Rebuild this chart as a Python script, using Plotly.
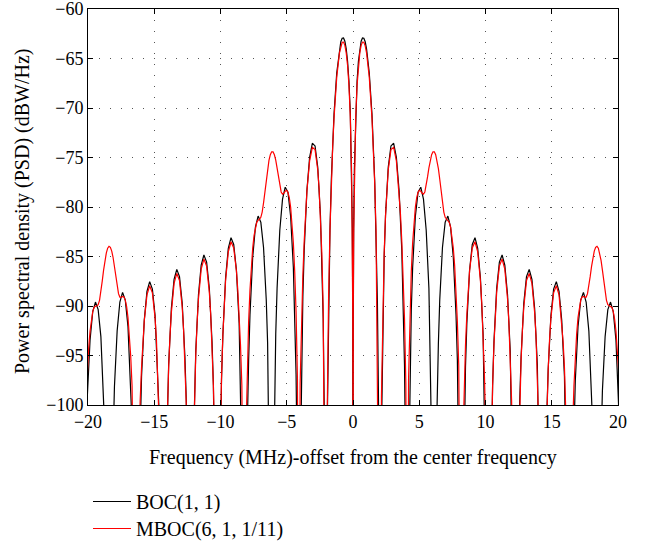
import numpy as np
import plotly.graph_objects as go

# ---------------- data ----------------
# frequency offset expressed in multiples of the 1.023 MHz chip rate (positive half;
# the spectrum is symmetric about the carrier)
CHIP_RATE_MHZ = 1.023
CENTER_NULL_DB = -130.0  # both spectra have a null at the carrier

boc_offset = [
    0.005, 0.01, 0.02, 0.05, 0.1, 0.2, 0.3, 0.4, 0.5, 0.6, 0.7, 0.8, 0.9, 1.0, 1.2, 1.4, 1.6, 1.7, 1.8, 1.9, 2.0,
    2.1, 2.2, 2.3, 2.4, 2.6, 2.8, 3.0, 3.2, 3.4, 3.6, 3.7, 3.8, 3.9, 4.0,
    4.1, 4.2, 4.3, 4.4, 4.6, 4.8, 5.0, 5.2, 5.4, 5.6, 5.7, 5.8, 5.9, 6.0,
    6.1, 6.2, 6.3, 6.4, 6.6, 6.8, 7.0, 7.2, 7.4, 7.6, 7.7, 7.8, 7.9, 8.0,
    8.1, 8.2, 8.3, 8.4, 8.6, 8.8, 9.0, 9.2, 9.4, 9.6, 9.7, 9.8, 9.9, 10.0,
    10.1, 10.2, 10.3, 10.4, 10.6, 10.8, 11.0, 11.2, 11.4, 11.6, 11.7, 11.8, 11.9, 12.0,
    12.1, 12.2, 12.3, 12.4, 12.6, 12.8, 13.0, 13.2, 13.4, 13.6, 13.7, 13.8, 13.9, 14.0,
    14.1, 14.2, 14.3, 14.4, 14.6, 14.8, 15.0, 15.2, 15.4, 15.6, 15.7, 15.8, 15.9, 16.0,
    16.1, 16.2, 16.3, 16.4, 16.6, 16.8, 17.0, 17.2, 17.4, 17.6, 17.7, 17.8, 17.9, 18.0,
    18.1, 18.2, 18.3, 18.4, 18.6, 18.8, 19.0, 19.2, 19.4, 19.6, 19.7,
]
boc_psd = [
    -102.2, -96.18, -90.15, -82.2, -76.25, -70.44, -67.28, -65.29, -64.02, -63.26, -62.93, -62.95, -63.31, -64.02,
    -66.47, -70.62, -77.33, -82.35, -89.53, -101.83, -130,
    -102.69, -91.27, -84.97, -80.85, -76.00, -73.83, -73.56, -74.99, -78.33, -84.38, -89.10, -96.02, -108.07, -130,
    -108.51, -96.88, -90.41, -86.12, -80.96, -78.51, -78.00, -79.21, -82.35, -88.21, -92.86, -99.69, -111.67, -130,
    -111.96, -100.27, -93.73, -89.37, -84.09, -81.54, -80.92, -82.04, -85.08, -90.87, -95.47, -102.26, -114.2, -130,
    -114.4, -102.70, -96.12, -91.74, -86.39, -83.78, -83.10, -84.17, -87.16, -92.90, -97.48, -104.24, -116.0, -130,
    -116.0, -104.59, -98.00, -93.59, -88.21, -85.56, -84.85, -85.87, -88.84, -94.54, -99.10, -105.86, -118.0, -130,
    -118.0, -106.15, -99.54, -95.12, -89.71, -87.03, -86.30, -87.30, -90.24, -95.92, -100.47, -107.22, -119.0, -130,
    -119.0, -107.47, -100.85, -96.42, -90.99, -88.30, -87.54, -88.53, -91.45, -97.11, -101.66, -108.39, -120.0, -130,
    -120.0, -108.61, -101.98, -97.55, -92.10, -89.40, -88.63, -89.60, -92.51, -98.16, -102.70, -109.43, -121.0, -130,
    -121.0, -109.62, -102.99, -98.55, -93.09, -90.37, -89.60, -90.56, -93.46, -99.10, -103.63,
]

mboc_offset = [
    0.005, 0.01, 0.02, 0.05, 0.1, 0.2, 0.3, 0.4, 0.5, 0.6, 0.7, 0.8, 0.9, 1.0, 1.2, 1.4, 1.5, 1.6, 1.7, 1.8, 1.9, 1.95, 2.0,
    2.1, 2.2, 2.3, 2.4, 2.5, 2.6, 2.8, 3.0, 3.2, 3.4, 3.5, 3.6, 3.7, 3.8, 3.9, 4.0,
    4.1, 4.2, 4.3, 4.4, 4.5, 4.6, 4.7, 4.8, 4.9, 5.0, 5.1, 5.2, 5.3, 5.4, 5.5, 5.6, 5.7, 5.8, 5.9, 6.0,
    6.1, 6.2, 6.3, 6.4, 6.5, 6.6, 6.7, 6.8, 6.9, 7.0, 7.1, 7.2, 7.3, 7.4, 7.5, 7.6, 7.7, 7.8, 7.9, 8.0,
    8.1, 8.2, 8.3, 8.4, 8.5, 8.6, 8.8, 9.0, 9.2, 9.4, 9.5, 9.6, 9.7, 9.8, 9.9, 10.0,
    10.1, 10.2, 10.3, 10.4, 10.5, 10.6, 10.8, 11.0, 11.2, 11.4, 11.5, 11.6, 11.7, 11.8, 11.9, 12.0,
    12.1, 12.2, 12.3, 12.4, 12.5, 12.6, 12.8, 13.0, 13.2, 13.4, 13.5, 13.6, 13.7, 13.8, 13.9, 14.0,
    14.1, 14.2, 14.3, 14.4, 14.5, 14.6, 14.8, 15.0, 15.2, 15.4, 15.5, 15.6, 15.7, 15.8, 15.9, 16.0,
    16.1, 16.2, 16.3, 16.4, 16.5, 16.6, 16.7, 16.8, 16.9, 17.0, 17.1, 17.2, 17.3, 17.4, 17.5, 17.6, 17.7, 17.8, 17.9, 18.0,
    18.1, 18.2, 18.3, 18.4, 18.5, 18.6, 18.7, 18.8, 18.9, 19.0, 19.1, 19.2, 19.3, 19.4, 19.5, 19.6, 19.7,
]
mboc_psd = [
    -102.6, -96.59, -90.56, -82.61, -76.66, -70.85, -67.69, -65.70, -64.43, -63.67, -63.34, -63.36, -63.72, -64.43,
    -66.88, -71.03, -73.90, -77.58, -82.39, -88.99, -98.86, -106.6, -130,
    -99.12, -90.22, -84.65, -80.85, -78.16, -76.26, -74.20, -73.97, -75.34, -78.40, -80.65, -83.46, -86.92, -91.32, -97.83, -130,
    -97.30, -90.62, -86.52, -83.62, -81.51, -80.04, -79.06, -78.51, -78.32, -78.41, -78.61, -78.71, -78.48, -77.84, -76.96,
    -76.04, -75.26, -74.72, -74.43, -74.43,
    -74.72, -75.30, -76.13, -77.20, -78.41, -79.58, -80.51, -81.04, -81.24, -81.33, -81.55, -82.04, -82.89, -84.16, -85.95,
    -88.37, -91.58, -96.00, -102.99, -130,
    -104.18, -98.00, -93.94, -90.82, -88.36, -86.46, -84.13, -83.51, -84.54, -87.42, -89.75, -92.90, -97.16, -103.19, -112.6, -130,
    -113.4, -104.05, -98.04, -93.84, -90.80, -88.60, -85.97, -85.26, -86.28, -89.25, -91.66, -94.95, -99.51, -106.27, -118.0, -130,
    -118.3, -106.56, -99.95, -95.53, -92.39, -90.12, -87.44, -86.71, -87.71, -90.64, -92.99, -96.17, -100.51, -106.68, -116.1, -130,
    -115.7, -106.42, -100.53, -96.42, -93.43, -91.25, -88.67, -87.95, -88.88, -91.52, -93.58, -96.19, -99.48, -103.69, -110.0, -130,
    -109.18, -102.35, -98.09, -95.05, -92.80, -91.18, -90.07, -89.40, -89.08, -89.04, -89.12, -89.10, -88.75, -88.00, -87.01,
    -85.99, -85.10, -84.46, -84.07, -83.98,
    -84.16, -84.65, -85.39, -86.38, -87.49, -88.58, -89.43, -89.87, -89.99, -90.01, -90.14, -90.56, -91.33, -92.54, -94.25,
    -96.60, -99.74,
]

series_names = ["BOC(1, 1)", "MBOC(6, 1, 1/11)"]
x_ticks = [-20, -15, -10, -5, 0, 5, 10, 15, 20]
y_ticks = [-100, -95, -90, -85, -80, -75, -70, -65, -60]
x_title = "Frequency (MHz)-offset from the center frequency"
y_title = "Power spectral density (PSD) (dBW/Hz)"


def full_spectrum(offset, psd):
    u = np.asarray(offset, dtype=float)
    v = np.asarray(psd, dtype=float)
    x = np.concatenate([-u[::-1], [0.0], u]) * CHIP_RATE_MHZ
    y = np.concatenate([v[::-1], [CENTER_NULL_DB], v])
    return x, y


bx, by = full_spectrum(boc_offset, boc_psd)
mx, my = full_spectrum(mboc_offset, mboc_psd)

FONT = "Liberation Serif"

fig = go.Figure()
fig.add_trace(go.Scatter(x=bx, y=by, mode="lines", name=series_names[0],
                         line=dict(color="#000000", width=1.2), legend="legend"))
fig.add_trace(go.Scatter(x=mx, y=my, mode="lines", name=series_names[1],
                         line=dict(color="#ff0000", width=1.2), legend="legend2"))

axis_common = dict(
    showline=True, linecolor="black", linewidth=1, mirror="ticks",
    ticks="inside", ticklen=5, tickwidth=1, tickcolor="black",
    showgrid=True, gridcolor="#555555", gridwidth=1, griddash="1px,10px",
    zeroline=False, tickfont=dict(family=FONT, size=18, color="black"),
    ticklabeloverflow="allow", automargin=False,
)

legend_common = dict(xref="container", yref="container", x=88 / 649,
                     xanchor="left", yanchor="top", bgcolor="rgba(0,0,0,0)",
                     itemwidth=38, font=dict(family=FONT, size=20))

fig.update_layout(
    width=649, height=546,
    margin=dict(l=88, r=31, t=9, b=141, autoexpand=False),
    paper_bgcolor="white", plot_bgcolor="white",
    font=dict(family=FONT, size=18, color="black"),
    xaxis=dict(axis_common, range=[-20, 20], tickvals=x_ticks),
    yaxis=dict(axis_common, range=[-100, -60], tickvals=y_ticks),
    legend=dict(legend_common, y=(546 - 482) / 546),
    legend2=dict(legend_common, y=(546 - 509) / 546),
    showlegend=True,
    annotations=[
        dict(text=x_title, xref="paper", yref="paper", x=0.5, y=0, yshift=-52,
             xanchor="center", yanchor="middle", showarrow=False,
             font=dict(family=FONT, size=20, color="black")),
        dict(text=y_title, xref="paper", yref="paper", x=0, y=0.5, xshift=-66, yshift=-4,
             xanchor="center", yanchor="middle", textangle=-90, showarrow=False,
             font=dict(family=FONT, size=20, color="black")),
    ],
)

fig.write_html("out.html")
